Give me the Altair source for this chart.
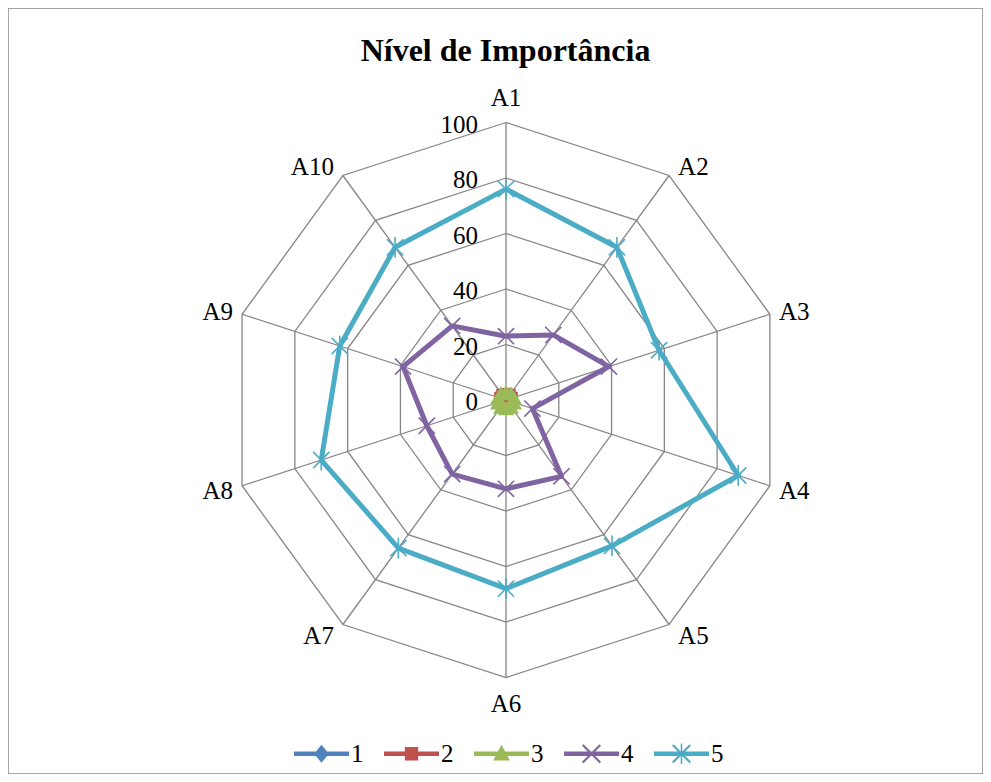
import altair as alt
import pandas as pd

# ---------------- data ----------------
axes = ["A1", "A2", "A3", "A4", "A5", "A6", "A7", "A8", "A9", "A10"]
levels = [0, 20, 40, 60, 80, 100]
level_labels = ["0", "20", "40", "60", "80", "100"]
series_names = ["1", "2", "3", "4", "5"]
s1 = [1, 1, 1, 1, 1, 1, 1, 1, 1, 1]
s2 = [2, 2, 2, 2, 2, 2, 2, 2, 2, 2]
s3 = [3, 3, 3, 3, 3, 3, 3, 3, 3, 3]
s4 = [23, 29, 39, 10, 34, 32, 33, 30, 39, 33]
s5 = [76, 68, 58, 88, 65, 68, 66, 70, 63, 68]
colors = ["#4F81BD", "#C0504D", "#9BBB59", "#8064A2", "#4BACC6"]

# ---------------- layout constants ----------------
W, H = 975, 766
CX, CY = 498, 392          # centre in chart pixels
PX = 2.775                 # pixels per unit
XDOM = [-CX / PX, (W - CX) / PX]
YDOM = [-(H - CY) / PX, CY / PX]
FONT = "Liberation Serif"
N = len(axes)

rows = []
for name, vals in zip(series_names, [s1, s2, s3, s4, s5]):
    closed = vals + vals[:1]
    for i, v in enumerate(closed):
        rows.append({"series": name, "idx": i, "value": v})
df = pd.DataFrame(rows)

ring_rows = []
for lv in levels:
    for i in range(N + 1):
        ring_rows.append({"level": lv, "idx": i, "value": lv})
rings = pd.DataFrame(ring_rows)

spoke_rows = []
for i, a in enumerate(axes):
    spoke_rows.append({"axis": a, "idx": i, "value": 0, "k": 0})
    spoke_rows.append({"axis": a, "idx": i, "value": levels[-1], "k": 1})
spokes = pd.DataFrame(spoke_rows)

labels = pd.DataFrame({"axis": axes, "idx": list(range(N))})
ticks = pd.DataFrame({"level": levels, "label": level_labels})

xs = alt.Scale(domain=XDOM, nice=False, zero=False)
ys = alt.Scale(domain=YDOM, nice=False, zero=False)
theta = f"datum.idx * 2 * PI / {N}"


def polar(chart):
    return chart.transform_calculate(
        t=theta
    ).transform_calculate(
        px="datum.value * sin(datum.t)", py="datum.value * cos(datum.t)"
    )


X = alt.X("px:Q", scale=xs, axis=None)
Y = alt.Y("py:Q", scale=ys, axis=None)
GRID = "#868686"

ring_layer = polar(alt.Chart(rings)).mark_line(color=GRID, strokeWidth=1.3).encode(
    x=X, y=Y, detail="level:N", order="idx:Q"
)
spoke_layer = polar(alt.Chart(spokes)).mark_line(color=GRID, strokeWidth=1.3).encode(
    x=X, y=Y, detail="axis:N", order="k:Q"
)

tick_layer = alt.Chart(ticks).transform_calculate(
    px=f"-28 / {PX}", py="datum.level"
).mark_text(align="right", baseline="middle", dy=2, font=FONT, fontSize=25, color="black").encode(
    x=X, y=Y, text="label:N"
)


def label_layer(filter_expr, align, dxpix, top_bottom=False):
    base = alt.Chart(labels).transform_filter(filter_expr).transform_calculate(t=theta)
    if top_bottom:
        base = base.transform_calculate(
            px="100 * sin(datum.t)",
            py=f"cos(datum.t) > 0 ? 100 + 25 / {PX} : -100 - 26 / {PX}",
        )
    else:
        base = base.transform_calculate(
            px=f"100 * sin(datum.t) + ({dxpix}) / {PX}",
            py=f"100 * cos(datum.t) + (12 * cos(datum.t) - 1.5) / {PX}",
        )
    return base.mark_text(align=align, baseline="middle", font=FONT, fontSize=25, color="black").encode(
        x=X, y=Y, text="axis:N"
    )


lab_right = label_layer("datum.idx >= 1 && datum.idx <= 4", "left", 9)
lab_left = label_layer("datum.idx >= 6", "right", -9)
lab_tb = label_layer("datum.idx == 0 || datum.idx == 5", "center", 0, top_bottom=True)

# marker shapes in the plot
X_PATH = "M-0.9,-0.9L0.9,0.9M-0.9,0.9L0.9,-0.9"
STAR_PATH = "M-0.9,-0.9L0.9,0.9M-0.9,0.9L0.9,-0.9M0,-1.15V1.15"
marker_specs = [
    dict(shape="diamond", filled=True, size=170),
    dict(shape="square", filled=True, size=170),
    dict(shape="triangle-up", filled=True, size=260),
    dict(shape=X_PATH, filled=False, size=324, strokeWidth=1.6),
    dict(shape=STAR_PATH, filled=False, size=324, strokeWidth=1.6),
]

series_layers = []
for name, col, spec in zip(series_names, colors, marker_specs):
    base = polar(alt.Chart(df)).transform_filter(f"datum.series == '{name}'")
    line = base.mark_line(color=col, strokeWidth=5, strokeJoin="round").encode(
        x=X, y=Y, order="idx:Q"
    )
    pts = base.transform_filter("datum.idx < %d" % N).mark_point(
        color=col, opacity=1, **spec
    ).encode(x=X, y=Y)
    series_layers += [line, pts]

# legend symbols: thick line with the marker on it (unit = 7 px)
LINE = "M-3.93,-0.32H3.93V0.32H-3.93Z"
D = 0.11
A = 1.25
XR = (f"M{-A + D},{-A - D}L{A + D},{A - D}L{A - D},{A + D}L{-A - D},{-A + D}Z"
      f"M{-A - D},{A - D}L{A - D},{-A - D}L{A + D},{-A + D}L{-A + D},{A + D}Z")
legend_paths = [
    LINE + "M0,-1.3L1.05,0L0,1.3L-1.05,0Z",
    LINE + "M-0.95,-0.95H0.95V0.95H-0.95Z",
    LINE + "M0,-1.3L1.2,0.95H-1.2Z",
    LINE + XR,
    LINE + XR + "M-0.11,-1.45H0.11V1.45H-0.11Z",
]

legend_layer = polar(alt.Chart(df)).transform_filter("datum.idx == 0").mark_point(
    filled=True, size=0, strokeWidth=0, opacity=1, fillOpacity=1
).encode(
    x=X,
    y=Y,
    color=alt.Color("series:N", scale=alt.Scale(domain=series_names, range=colors),
                    legend=alt.Legend(
                        orient="none", legendX=301, legendY=733, direction="horizontal",
                        title=None, symbolSize=196, symbolOpacity=1, symbolStrokeWidth=0,
                        labelFont=FONT, labelFontSize=25, labelColor="black",
                        labelOffset=17, columnPadding=19,
                    )),
    shape=alt.Shape("series:N", scale=alt.Scale(domain=series_names, range=legend_paths)),
)

chart = alt.layer(
    ring_layer, spoke_layer, tick_layer, lab_right, lab_left, lab_tb,
    *series_layers, legend_layer,
).properties(
    width=W, height=H,
    title=alt.TitleParams("Nível de Importância", font=FONT, fontSize=32, fontWeight="bold",
                          color="black", anchor="middle", baseline="top", offset=0, dy=60, dx=10),
    autosize=alt.AutoSizeParams(type="none"),
    padding=0,
    background="white",
).configure_view(stroke="#898989", strokeWidth=1.5)

chart.save("out.html", embed_options={"renderer": "svg", "actions": False})
